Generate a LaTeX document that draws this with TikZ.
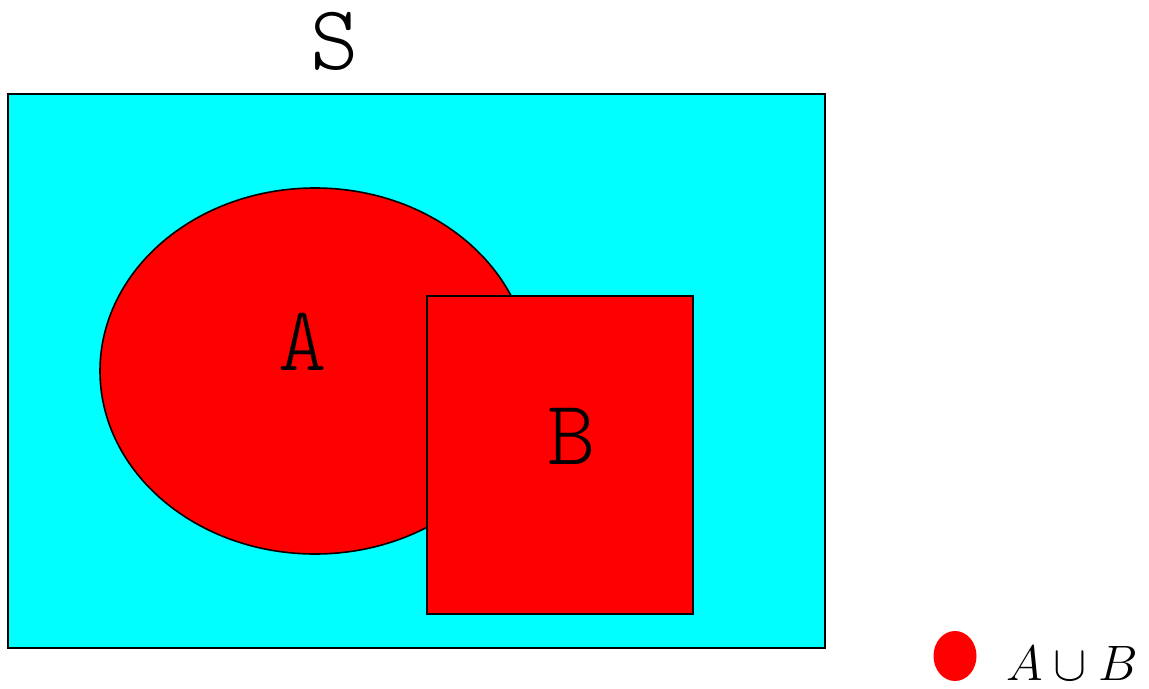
\documentclass[tikz,border=0pt]{standalone}
\definecolor{skycyan}{RGB}{0,255,255}
\definecolor{setred}{RGB}{255,0,0}
\begin{document}
\begin{tikzpicture}[x=0.5pt,y=-0.5pt,
  outline/.style={draw=black,line width=0.8pt},
  bigtt/.style={inner sep=0pt,font=\fontsize{46}{50}\fontfamily{lmtt}\fontseries{l}\selectfont},
  legendtxt/.style={inner sep=0pt,font=\fontsize{33}{36}\selectfont}]
\useasboundingbox (0,0) rectangle (1149,689);
% universe S
\fill[skycyan] (8,94) rectangle (825,648);
\draw[outline] (8,94) rectangle (825,648);
% set A (ellipse)
\fill[setred] (315,371) ellipse [x radius=215, y radius=183];
\draw[outline] (315,371) ellipse [x radius=215, y radius=183];
% set B (rectangle)
\fill[setred] (427,296) rectangle (693,614);
\draw[outline] (427,296) rectangle (693,614);
% labels
\node[bigtt] (labS) at (335,41) {S};
\node[bigtt] (labA) at (303,342) {A};
\node[bigtt] (labB) at (572,436) {B};
% legend
\fill[setred] (955,656) ellipse [x radius=21.5, y radius=25];
\node[legendtxt] (leg) at (1072,663) {$A\cup B$};
\end{tikzpicture}
\end{document}
